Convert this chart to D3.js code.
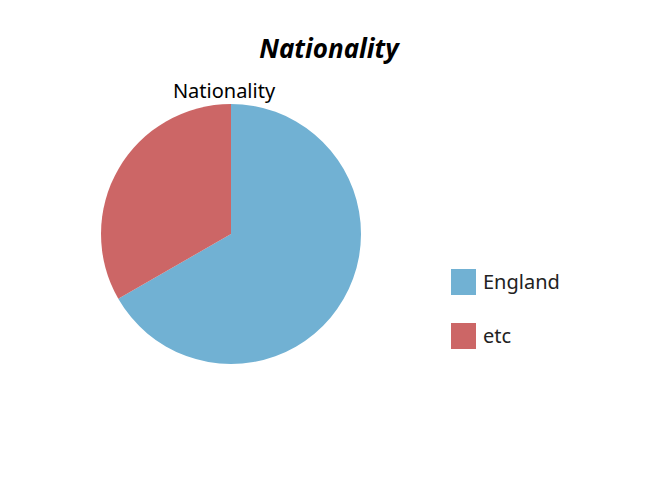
<!DOCTYPE html>
<html>
<head>
<meta charset="utf-8">
<script src="https://cdn.jsdelivr.net/npm/d3@7"></script>
<style>
  body { margin: 0; background: #fff; }
  text { font-family: "Noto Sans", "DejaVu Sans", sans-serif; }
</style>
</head>
<body>
<svg id="chart"></svg>
<script>
// Data
const categories = ["England", "etc"];
const values = [66.7, 33.3];
const colors = ["#71b1d3", "#cc6666"];

const width = 650;
const height = 480;

const svg = d3.select("#chart").attr("width", width).attr("height", height);

// Title
svg
  .append("text")
  .attr("x", 329)
  .attr("y", 58)
  .attr("text-anchor", "middle")
  .style("font-size", "26px")
  .style("font-weight", "bold")
  .style("font-style", "italic")
  .text("Nationality");

// Pie
const cx = 231;
const cy = 234;
const radius = 130;

svg
  .append("text")
  .attr("x", 224)
  .attr("y", 98)
  .attr("text-anchor", "middle")
  .style("font-size", "20px")
  .text("Nationality");

const pie = d3.pie().sort(null).value((d) => d.value);
const arc = d3.arc().innerRadius(0).outerRadius(radius);

const pieData = pie(categories.map((c, i) => ({ name: c, value: values[i] })));

svg
  .append("g")
  .attr("transform", `translate(${cx}, ${cy})`)
  .selectAll("path")
  .data(pieData)
  .enter()
  .append("path")
  .attr("d", arc)
  .attr("fill", (d, i) => colors[i]);

// Legend
const legend = svg
  .append("g")
  .attr("transform", "translate(451, 269)");

const item = legend
  .selectAll("g")
  .data(categories)
  .enter()
  .append("g")
  .attr("transform", (d, i) => `translate(0, ${i * 54})`);

item
  .append("rect")
  .attr("width", 25)
  .attr("height", 26)
  .attr("fill", (d, i) => colors[i]);

item
  .append("text")
  .attr("x", 32)
  .attr("y", 20)
  .style("font-size", "20px")
  .style("fill", "#222")
  .text((d) => d);
</script>
</body>
</html>
